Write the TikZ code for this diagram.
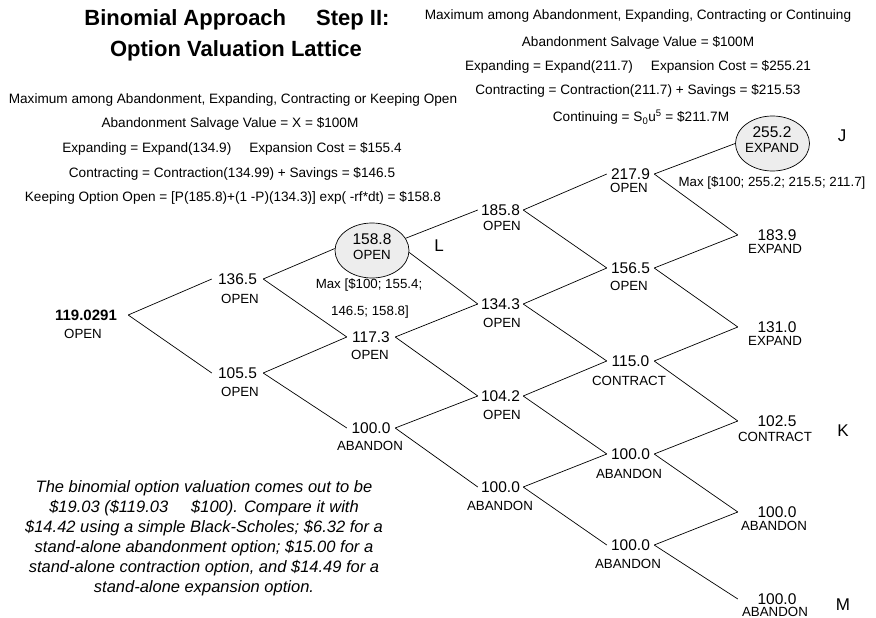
\documentclass[tikz,border=0pt]{standalone}
\usepackage{fontspec}
\setmainfont{Liberation Sans}
\usetikzlibrary{shapes.geometric}
\pgfdeclarelayer{edges}
\pgfsetlayers{edges,main}
\definecolor{ellfill}{RGB}{237,237,237}
\begin{document}
\begin{tikzpicture}[x=1pt,y=-1pt,
  num/.style={inner sep=0pt, font=\fontsize{15.5}{17}\selectfont, text height=11.1pt, text depth=0pt},
  rootnum/.style={num, font=\fontsize{15}{17}\selectfont\bfseries},
  lab/.style={inner sep=0pt, font=\fontsize{13.3}{15}\selectfont, text height=9.5pt, text depth=0pt},
  info/.style={inner sep=0pt, font=\fontsize{13.3}{15}\selectfont, text height=9.5pt, text depth=0pt},
  topinfo/.style={inner sep=0pt, font=\fontsize{13.6}{15}\selectfont, text height=9.7pt, text depth=0pt},
  titletext/.style={inner sep=0pt, font=\fontsize{22}{24}\selectfont\bfseries, text height=15.8pt, text depth=0pt},
  tag/.style={inner sep=0pt, font=\fontsize{17}{19}\selectfont, text height=12.2pt, text depth=0pt},
  para/.style={inner sep=0pt, font=\fontsize{16.5}{20}\selectfont\itshape, align=center},
  ell/.style={ellipse, draw=black, line width=0.7pt, fill=ellfill, minimum width=74pt, minimum height=55pt, inner sep=0pt},
  link/.style={draw=black, line width=0.7pt}
]
\useasboundingbox (0,0) rectangle (876,618);

% titles
\node[titletext] (t1) at (237,18) {Binomial Approach\hspace*{30pt}Step II:};
\node[titletext] (t2) at (236,49) {Option Valuation Lattice};

% left information block
\node[topinfo] (a1) at (233,99) {Maximum among Abandonment, Expanding, Contracting or Keeping Open};
\node[topinfo] (a2) at (230,123) {Abandonment Salvage Value = X = \$100M};
\node[topinfo] (a3) at (232,148) {Expanding = Expand(134.9)\hspace*{18pt}Expansion Cost = \$155.4};
\node[topinfo] (a4) at (232,173) {Contracting = Contraction(134.99) + Savings = \$146.5};
\node[topinfo] (a5) at (233,197) {Keeping Option Open = [P(185.8)+(1 -P)(134.3)] exp( -rf*dt) = \$158.8};

% right information block
\node[topinfo] (b1) at (638,15) {Maximum among Abandonment, Expanding, Contracting or Continuing};
\node[topinfo] (b2) at (638,42) {Abandonment Salvage Value = \$100M};
\node[topinfo] (b3) at (638,66) {Expanding = Expand(211.7)\hspace*{18pt}Expansion Cost = \$255.21};
\node[topinfo] (b4) at (638,90) {Contracting = Contraction(211.7) + Savings = \$215.53};
\node[topinfo] (b5) at (641,117) {Continuing = S\textsubscript{0}u\textsuperscript{5} = \$211.7M};

% ellipses
\node[ell] (L) at (372,250.5) {};
\node[ell] (J) at (772.5,143.5) {};

% column 0
\node[rootnum, minimum width=84pt] (n00) at (86,315) {119.0291};
\node[lab] (l00) at (83,334) {OPEN};
% column 1
\node[num, minimum width=51pt] (n10) at (237.5,279) {136.5};
\node[lab] (l10) at (240,299) {OPEN};
\node[num, minimum width=51pt] (n11) at (237.5,373) {105.5};
\node[lab] (l11) at (240,392) {OPEN};
% column 2
\node[num] (n20) at (372,239) {158.8};
\node[lab] (l20) at (372,255) {OPEN};
\node[num, minimum width=48pt] (n21) at (371,337) {117.3};
\node[lab] (l21) at (370,355) {OPEN};
\node[num, minimum width=48pt] (n22) at (371,428) {100.0};
\node[lab] (l22) at (370,446) {ABANDON};
% column 3
\node[num, minimum width=45pt] (n30) at (500.5,210) {185.8};
\node[lab] (l30) at (502,226) {OPEN};
\node[num, minimum width=45pt] (n31) at (500.5,304) {134.3};
\node[lab] (l31) at (502,323) {OPEN};
\node[num, minimum width=45pt] (n32) at (500.5,396) {104.2};
\node[lab] (l32) at (502,415) {OPEN};
\node[num, minimum width=45pt] (n33) at (500.5,487) {100.0};
\node[lab] (l33) at (500,506) {ABANDON};
% column 4
\node[num, minimum width=47pt] (n40) at (630.5,174) {217.9};
\node[lab] (l40) at (629,188) {OPEN};
\node[num, minimum width=47pt] (n41) at (630.5,268) {156.5};
\node[lab] (l41) at (629,286) {OPEN};
\node[num, minimum width=47pt] (n42) at (630.5,361) {115.0};
\node[lab] (l42) at (629,381) {CONTRACT};
\node[num, minimum width=47pt] (n43) at (630.5,454) {100.0};
\node[lab] (l43) at (629,474) {ABANDON};
\node[num, minimum width=47pt] (n44) at (630.5,545) {100.0};
\node[lab] (l44) at (628,564) {ABANDON};
% column 5
\node[num] (n50) at (772,132) {255.2};
\node[lab] (l50) at (772,148) {EXPAND};
\node[num, minimum width=78pt] (n51) at (777,235) {183.9};
\node[lab] (l51) at (775,249) {EXPAND};
\node[num, minimum width=78pt] (n52) at (777,327) {131.0};
\node[lab] (l52) at (775,341) {EXPAND};
\node[num, minimum width=78pt] (n53) at (777,421) {102.5};
\node[lab] (l53) at (775,437) {CONTRACT};
\node[num, minimum width=78pt] (n54) at (777,512) {100.0};
\node[lab] (l54) at (774,526) {ABANDON};
\node[num, minimum width=78pt] (n55) at (777,599) {100.0};
\node[lab] (l55) at (775,612) {ABANDON};

% max annotations
\node[info] (m1) at (369,284) {Max [\$100; 155.4;};
\node[info] (m2) at (370,311) {146.5; 158.8]};
\node[info] (m3) at (772,182) {Max [\$100; 255.2; 215.5; 211.7]};

% letters
\node[tag] (tL) at (439,245) {L};
\node[tag] (tJ) at (842,135) {J};
\node[tag] (tK) at (843,430) {K};
\node[tag] (tM) at (843,604) {M};

% note
\node[para] (note) at (204,538) {The binomial option valuation comes out to be\\
\$19.03 (\$119.03\hspace*{23pt}\$100). Compare it with\hspace*{20pt}\\
\$14.42 using a simple Black-Scholes; \$6.32 for a\\
stand-alone abandonment option; \$15.00 for a\\
stand-alone contraction option, and \$14.49 for a\\
stand-alone expansion option.};

% lattice connectors
\begin{pgfonlayer}{edges}
\draw[link] (n00.east) -- (n10.west);
\draw[link] (n00.east) -- (n11.west);
\draw[link] (n10.east) -- (L.177);
\draw[link] (n10.east) -- (n21.west);
\draw[link] (n11.east) -- (n21.west);
\draw[link] (n11.east) -- (n22.west);
\draw[link] (L.20) -- (n30.west);
\draw[link] (L.-3) -- (n31.west);
\draw[link] (n21.east) -- (n31.west);
\draw[link] (n21.east) -- (n32.west);
\draw[link] (n22.east) -- (n32.west);
\draw[link] (n22.east) -- (n33.west);
\draw[link] (n30.east) -- (n40.west);
\draw[link] (n30.east) -- (n41.west);
\draw[link] (n31.east) -- (n41.west);
\draw[link] (n31.east) -- (n42.west);
\draw[link] (n32.east) -- (n42.west);
\draw[link] (n32.east) -- (n43.west);
\draw[link] (n33.east) -- (n43.west);
\draw[link] (n33.east) -- (n44.west);
\draw[link] (n40.east) -- (J.west);
\draw[link] (n40.east) -- (n51.west);
\draw[link] (n41.east) -- (n51.west);
\draw[link] (n41.east) -- (n52.west);
\draw[link] (n42.east) -- (n52.west);
\draw[link] (n42.east) -- (n53.west);
\draw[link] (n43.east) -- (n53.west);
\draw[link] (n43.east) -- (n54.west);
\draw[link] (n44.east) -- (n54.west);
\draw[link] (n44.east) -- (n55.west);
\end{pgfonlayer}
\end{tikzpicture}
\end{document}
